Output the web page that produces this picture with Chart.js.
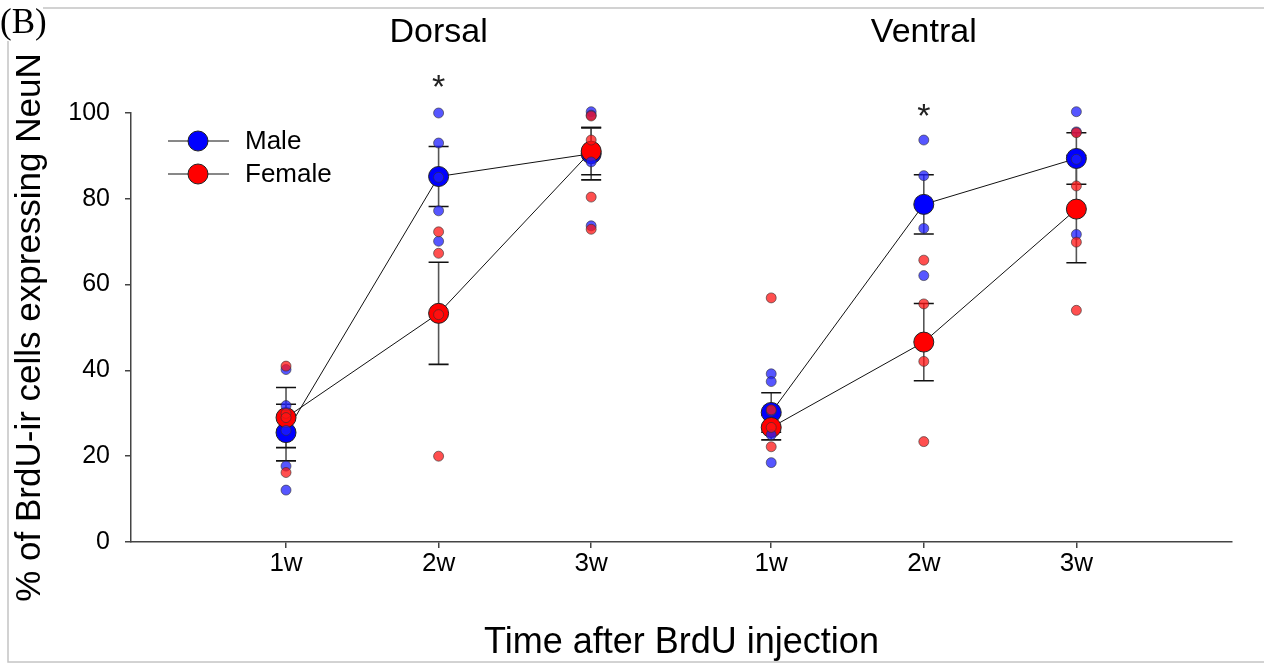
<!DOCTYPE html>
<html>
<head>
<meta charset="utf-8">
<title>BrdU-ir cells expressing NeuN</title>
<script src="https://cdn.jsdelivr.net/npm/chart.js@4.4.1/dist/chart.umd.min.js"></script>
<style>
  html, body { margin: 0; padding: 0; background: #fff; }
  canvas { display: block; }
</style>
</head>
<body>
<canvas id="neunChart" width="1264" height="665"></canvas>
<script>
// categories
const weeks = ['1w', '2w', '3w'];
const regions = ['Dorsal', 'Ventral'];
const sexes = ['Male', 'Female'];

// group means and SE
const dorsalMaleMean = [25.5, 85.2, 90.5];
const dorsalMaleSE = [6.6, 7.0, 6.1];
const dorsalFemaleMean = [29.0, 53.3, 91.1];
const dorsalFemaleSE = [7.0, 11.9, 5.5];
const ventralMaleMean = [30.2, 78.7, 89.4];
const ventralMaleSE = [4.6, 6.9, 6.0];
const ventralFemaleMean = [26.7, 46.6, 77.6];
const ventralFemaleSE = [2.9, 9.0, 12.5];

// individual animals, one list per week
const dorsalMaleDots = [[40.2, 31.8, 26.0, 17.7, 12.1], [100.0, 93.0, 85.0, 77.2, 70.1], [100.3, 99.5, 88.6, 73.7]];
const dorsalFemaleDots = [[41.0, 30.0, 29.0, 16.2], [72.3, 67.3, 53.0, 20.0], [99.3, 93.7, 80.4, 72.9]];
const ventralMaleDots = [[39.2, 37.4, 30.5, 25.0, 18.5], [93.7, 85.4, 73.1, 62.1], [100.3, 95.6, 89.2, 71.7]];
const ventralFemaleDots = [[56.9, 30.8, 26.7, 22.2], [65.7, 55.5, 42.1, 23.4], [95.4, 83.0, 69.9, 54.0]];

// significance marks (Male vs Female)
const dorsalSig = [false, true, false];
const ventralSig = [false, true, false];

const yTicks = [0, 20, 40, 60, 80, 100];

const means = [[dorsalMaleMean, dorsalFemaleMean], [ventralMaleMean, ventralFemaleMean]];
const ses = [[dorsalMaleSE, dorsalFemaleSE], [ventralMaleSE, ventralFemaleSE]];
const dots = [[dorsalMaleDots, dorsalFemaleDots], [ventralMaleDots, ventralFemaleDots]];
const sig = [dorsalSig, ventralSig];

const FONT = "'Liberation Sans', Arial, sans-serif";
const bigColor = ['#0000ff', '#ff0000'];
const dotColor = ['rgba(30,30,255,0.75)', 'rgba(255,20,20,0.75)'];

// x position of a week within a region
const groupGap = 0.18;
const pos = (gi, wi) => gi * (weeks.length + groupGap) + wi + 1;
const tickPos = [];
const tickText = [];
regions.forEach((r, gi) => weeks.forEach((w, wi) => { tickPos.push(pos(gi, wi)); tickText.push(w); }));

const datasets = [];
regions.forEach((r, gi) => {
  sexes.forEach((s, si) => {
    datasets.push({
      label: r + ' ' + s + ' mean',
      type: 'scatter',
      showLine: true,
      data: weeks.map((w, wi) => ({ x: pos(gi, wi), y: means[gi][si][wi] })),
      borderColor: '#111',
      borderWidth: 1,
      pointRadius: 10,
      pointBackgroundColor: bigColor[si],
      pointBorderColor: '#222',
      pointBorderWidth: 1,
      clip: false,
      order: 3 - si
    });
    const pts = [];
    dots[gi][si].forEach((list, wi) => list.forEach(v => pts.push({ x: pos(gi, wi), y: v })));
    datasets.push({
      label: r + ' ' + s + ' animals',
      type: 'scatter',
      data: pts,
      pointRadius: 5,
      pointBackgroundColor: dotColor[si],
      pointBorderColor: 'rgba(50,50,50,0.6)',
      pointBorderWidth: 1,
      clip: false,
      order: 1 - si
    });
  });
});

const errorBars = {
  id: 'errorBars',
  beforeDatasetsDraw(chart) {
    const { ctx, scales: { x, y } } = chart;
    ctx.save();
    regions.forEach((r, gi) => sexes.forEach((s, si) => weeks.forEach((w, wi) => {
      const m = means[gi][si][wi], e = ses[gi][si][wi];
      const px = x.getPixelForValue(pos(gi, wi));
      const top = y.getPixelForValue(m + e), bot = y.getPixelForValue(m - e);
      ctx.strokeStyle = '#555';
      ctx.lineWidth = 1.6;
      ctx.beginPath(); ctx.moveTo(px, top); ctx.lineTo(px, bot); ctx.stroke();
      ctx.strokeStyle = '#111';
      ctx.beginPath();
      ctx.moveTo(px - 10, top); ctx.lineTo(px + 10, top);
      ctx.moveTo(px - 10, bot); ctx.lineTo(px + 10, bot);
      ctx.stroke();
    })));
    ctx.restore();
  }
};

const decorations = {
  id: 'decorations',
  afterDraw(chart) {
    const { ctx, chartArea: area, scales: { x, y } } = chart;
    ctx.save();
    // frame
    ctx.strokeStyle = '#c4c4c4';
    ctx.lineWidth = 1.5;
    ctx.strokeRect(8, 8, chart.width + 10, chart.height - 11);
    ctx.fillStyle = '#fff';
    ctx.fillRect(0, 0, 43, 41);
    ctx.fillStyle = '#000';
    ctx.font = "35px 'Liberation Serif', 'Times New Roman', serif";
    ctx.textAlign = 'left';
    ctx.textBaseline = 'alphabetic';
    ctx.fillText('(B)', 0, 33);

    // panel titles
    ctx.font = '34px ' + FONT;
    ctx.textAlign = 'center';
    ctx.textBaseline = 'middle';
    regions.forEach((r, gi) => ctx.fillText(r, x.getPixelForValue(pos(gi, 1)), 33));

    // asterisks
    ctx.font = '34px ' + FONT;
    ctx.fillStyle = '#222';
    regions.forEach((r, gi) => sig[gi].forEach((on, wi) => {
      if (!on) return;
      const hi = Math.max(...sexes.map((s, si) => means[gi][si][wi] + ses[gi][si][wi]));
      ctx.fillText('*', x.getPixelForValue(pos(gi, wi)), y.getPixelForValue(hi + 15.5) + 9);
    }));

    // legend
    ctx.font = '26px ' + FONT;
    ctx.textAlign = 'left';
    sexes.forEach((s, si) => {
      const ly = area.top + 28 + si * 33;
      const lx = area.left + 37;
      ctx.strokeStyle = '#111';
      ctx.lineWidth = 1;
      ctx.beginPath(); ctx.moveTo(lx, ly); ctx.lineTo(lx + 61, ly); ctx.stroke();
      ctx.beginPath(); ctx.arc(lx + 30, ly, 10, 0, Math.PI * 2);
      ctx.fillStyle = bigColor[si]; ctx.fill();
      ctx.strokeStyle = '#222'; ctx.stroke();
      ctx.fillStyle = '#000';
      ctx.fillText(s, lx + 77, ly + 1);
    });
    ctx.restore();
  }
};

new Chart(document.getElementById('neunChart'), {
  type: 'scatter',
  data: { datasets },
  options: {
    responsive: false,
    animation: false,
    events: [],
    layout: { padding: { left: 0, top: 113, right: 32, bottom: 0 } },
    plugins: { legend: { display: false }, tooltip: { enabled: false } },
    scales: {
      x: {
        type: 'linear',
        min: -0.016,
        max: pos(1, 2) + 1.02,
        afterBuildTicks: s => { s.ticks = tickPos.map(v => ({ value: v })); },
        afterFit: s => { s.height = 123; },
        ticks: { color: '#000', font: { family: FONT, size: 26 }, padding: 0, maxRotation: 0, autoSkip: false,
                 callback: (v, i) => tickText[i] },
        grid: { drawOnChartArea: false, tickLength: 6, color: '#444', lineWidth: 1.5 },
        border: { color: '#444', width: 1.5 },
        title: { display: true, text: 'Time after BrdU injection', color: '#000',
                 font: { family: FONT, size: 36 }, padding: { top: 0, bottom: 0 } }
      },
      y: {
        min: 0,
        max: 100,
        afterBuildTicks: s => { s.ticks = yTicks.map(v => ({ value: v })); },
        afterFit: s => { s.width = 131; },
        ticks: { color: '#000', font: { family: FONT, size: 25 }, padding: 15 },
        grid: { drawOnChartArea: false, tickLength: 6, color: '#444', lineWidth: 1.5 },
        border: { color: '#444', width: 1.5 },
        title: { display: true, text: '% of BrdU-ir cells expressing NeuN', color: '#000',
                 font: { family: FONT, size: 35 }, padding: { top: 9, bottom: 0 } }
      }
    }
  },
  plugins: [errorBars, decorations]
});
</script>
</body>
</html>
